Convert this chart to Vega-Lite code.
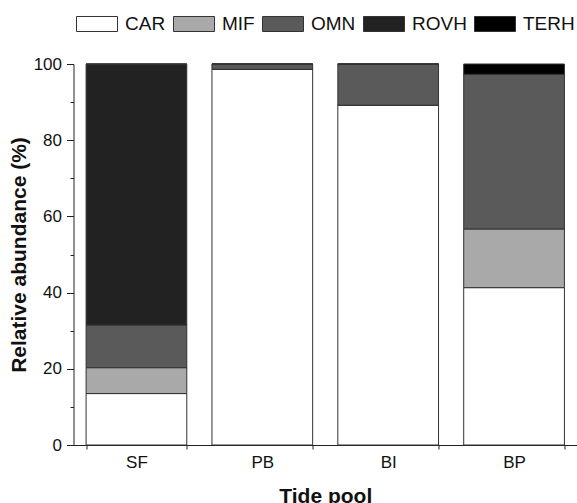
{
  "$schema": "https://vega.github.io/schema/vega-lite/v6.json",
  "width": 503.5,
  "height": 381,
  "autosize": {"type": "none"},
  "padding": {"left": 73.5, "top": 64, "right": 0, "bottom": 58},
  "config": {
    "font": "Liberation Sans",
    "view": {"stroke": null},
    "axis": {"domainColor": "#222", "tickColor": "#222", "labelColor": "#111", "titleColor": "#111", "grid": false}
  },
  "data": {
    "values": [
      {"pool": "SF", "group": "CAR", "o": 1, "value": 13.5},
      {"pool": "SF", "group": "MIF", "o": 2, "value": 6.8},
      {"pool": "SF", "group": "OMN", "o": 3, "value": 11.2},
      {"pool": "SF", "group": "ROVH", "o": 4, "value": 68.5},
      {"pool": "SF", "group": "TERH", "o": 5, "value": 0},
      {"pool": "PB", "group": "CAR", "o": 1, "value": 98.6},
      {"pool": "PB", "group": "MIF", "o": 2, "value": 0},
      {"pool": "PB", "group": "OMN", "o": 3, "value": 1.4},
      {"pool": "PB", "group": "ROVH", "o": 4, "value": 0},
      {"pool": "PB", "group": "TERH", "o": 5, "value": 0},
      {"pool": "BI", "group": "CAR", "o": 1, "value": 89.2},
      {"pool": "BI", "group": "MIF", "o": 2, "value": 0},
      {"pool": "BI", "group": "OMN", "o": 3, "value": 10.8},
      {"pool": "BI", "group": "ROVH", "o": 4, "value": 0},
      {"pool": "BI", "group": "TERH", "o": 5, "value": 0},
      {"pool": "BP", "group": "CAR", "o": 1, "value": 41.3},
      {"pool": "BP", "group": "MIF", "o": 2, "value": 15.4},
      {"pool": "BP", "group": "OMN", "o": 3, "value": 40.6},
      {"pool": "BP", "group": "ROVH", "o": 4, "value": 0},
      {"pool": "BP", "group": "TERH", "o": 5, "value": 2.7}
    ]
  },
  "mark": {"type": "bar", "stroke": "#333", "strokeWidth": 1},
  "encoding": {
    "x": {
      "field": "pool", "type": "nominal", "sort": ["SF", "PB", "BI", "BP"],
      "scale": {"paddingInner": 0.2, "paddingOuter": 0.1},
      "axis": {
        "title": "Tide pool", "titleFontSize": 21, "titleFontWeight": "bold", "titlePadding": 15,
        "labelAngle": 0, "labelFontSize": 17, "labelPadding": 5, "tickBand": "extent", "tickSize": 4
      }
    },
    "y": {
      "field": "value", "type": "quantitative", "stack": "zero",
      "scale": {"domain": [0, 100], "nice": false},
      "axis": {
        "title": "Relative abundance (%)", "titleFontSize": 21, "titleFontWeight": "bold", "titlePadding": 4,
        "values": [0, 10, 20, 30, 40, 50, 60, 70, 80, 90, 100],
        "labelExpr": "datum.value % 20 === 0 ? datum.label : ''",
        "tickSize": {"condition": {"test": "datum.value % 20 === 0", "value": 7}, "value": 3.5},
        "labelFontSize": 17, "labelPadding": 5
      }
    },
    "color": {
      "field": "group", "type": "nominal",
      "scale": {"domain": ["CAR", "MIF", "OMN", "ROVH", "TERH"], "range": ["#ffffff", "#a9a9a9", "#5a5a5a", "#222222", "#000000"]},
      "legend": {
        "title": null, "orient": "none", "direction": "horizontal", "legendX": 2.5, "legendY": -61,
        "symbolType": "M-1,-0.366H1V0.366H-1Z", "symbolSize": 1681, "symbolStrokeColor": "#333", "symbolStrokeWidth": 1,
        "labelFontSize": 19, "labelOffset": 7, "columnPadding": 5, "labelColor": "#111"
      }
    },
    "order": {"field": "o", "type": "quantitative"}
  }
}
